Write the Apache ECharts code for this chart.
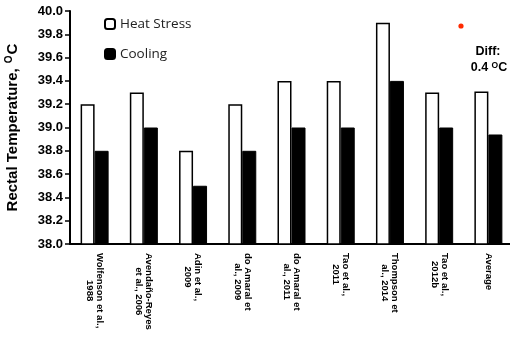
<!DOCTYPE html>
<html><head><meta charset="utf-8">
<script src="https://cdn.jsdelivr.net/npm/echarts@6/dist/echarts.min.js"></script>
<style>html,body{margin:0;padding:0;background:#fff}#c{width:510px;height:339px}</style>
</head><body><div id="c"></div>
<script>
const categories = [
  ["Wolfenson et al.,", "1988"],
  ["Avendaño-Reyes", "et al., 2006"],
  ["Adin et al.,", "2009"],
  ["do Amaral et", "al., 2009"],
  ["do Amaral et", "al., 2011"],
  ["Tao et al.,", "2011"],
  ["Thompson et", "al., 2014"],
  ["Tao et al.,", "2012b"],
  ["Average"]
];
const heatStress = [39.2, 39.3, 38.8, 39.2, 39.4, 39.4, 39.9, 39.3, 39.31];
const cooling = [38.8, 39.0, 38.5, 38.8, 39.0, 39.0, 39.4, 39.0, 38.94];
const yTicks = { min: 38.0, max: 40.0, interval: 0.2 };

const chart = echarts.init(document.getElementById('c'));
chart.setOption({
  animation: false,
  backgroundColor: '#fff',
  grid: { left: 70, right: -3, top: 11, bottom: 95, containLabel: false, outerBoundsMode: 'none' },
  legend: [
    { data: ['Heat Stress'], left: 99, top: 12, itemWidth: 10, itemHeight: 10, itemGap: 4,
      textStyle: { fontFamily: 'Open Sans', fontSize: 13.5, color: '#222' } },
    { data: ['Cooling'], left: 99, top: 42, itemWidth: 10, itemHeight: 10, itemGap: 4,
      textStyle: { fontFamily: 'Open Sans', fontSize: 13.5, color: '#222' } }
  ],
  xAxis: {
    type: 'category',
    data: categories.map(c => c.join('\n')),
    axisLine: { lineStyle: { color: '#000', width: 2 } },
    axisTick: { show: false },
    axisLabel: {
      interval: 0, rotate: -90, margin: 9,
      fontFamily: 'Liberation Sans', fontSize: 9.5, fontWeight: 'bold', color: '#000', lineHeight: 10,
      formatter: v => v.split('\n').map(s => '{c|' + s + '}').join('\n'),
      rich: { c: { align: 'center', fontFamily: 'Liberation Sans', fontSize: 9.5, fontWeight: 'bold', lineHeight: 10, color: '#000' } }
    }
  },
  yAxis: {
    type: 'value', min: yTicks.min, max: yTicks.max, interval: yTicks.interval,
    name: '{t|Rectal Temperature, }{s|O}{t|C}',
    nameLocation: 'middle', nameGap: 48, nameRotate: 90,
    nameTextStyle: {
      rich: {
        t: { fontFamily: 'Liberation Sans', fontSize: 15, fontWeight: 'bold', color: '#000', lineHeight: 18 },
        s: { fontFamily: 'Liberation Sans', fontSize: 10, fontWeight: 'bold', color: '#000', verticalAlign: 'top', lineHeight: 18, padding: [0, 1, 6, 1] }
      }
    },
    axisLine: { show: true, lineStyle: { color: '#000', width: 2 } },
    axisTick: { show: true, length: 5, lineStyle: { color: '#000', width: 1.5 } },
    splitLine: { show: false },
    axisLabel: {
      margin: 7, fontFamily: 'Liberation Sans', fontSize: 13, fontWeight: 'bold', color: '#000',
      formatter: v => v.toFixed(1)
    }
  },
  series: [
    { name: 'Heat Stress', type: 'bar', data: heatStress, barWidth: 14, barGap: '0%',
      itemStyle: { color: '#fff', borderColor: '#000', borderWidth: 1.5 } },
    { name: 'Cooling', type: 'bar', data: cooling, barWidth: 14, barGap: '0%',
      itemStyle: { color: '#000', borderColor: '#000', borderWidth: 1 } }
  ],
  graphic: [
    { type: 'circle', shape: { cx: 461, cy: 26, r: 2.6 }, style: { fill: '#ff2a00' } },
    { type: 'text', x: 488, y: 52, style: { text: 'Diff:', font: 'bold 12.5px "Liberation Sans"', fill: '#000', align: 'center', verticalAlign: 'middle' } },
    { type: 'text', x: 489, y: 68, style: {
      text: '{a|0.4 }{s|O}{a|C}', align: 'center', verticalAlign: 'middle',
      rich: {
        a: { font: 'bold 12.5px "Liberation Sans"', fill: '#000', lineHeight: 14 },
        s: { font: 'bold 8.5px "Liberation Sans"', fill: '#000', verticalAlign: 'top', lineHeight: 14, padding: [0, 0, 5, 0] }
      } } }
  ]
});
</script></body></html>
